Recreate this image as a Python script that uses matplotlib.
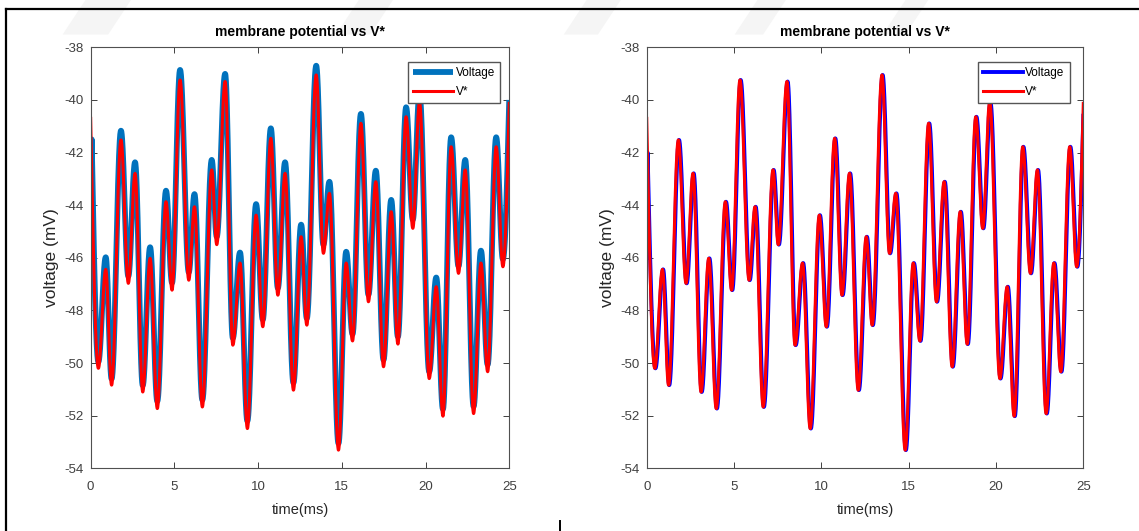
import numpy as np
import matplotlib
matplotlib.use("Agg")
import matplotlib.pyplot as plt
from matplotlib.lines import Line2D
from matplotlib.patches import Polygon

plt.rcParams['font.family'] = ['Liberation Sans', 'DejaVu Sans']
plt.rcParams['axes.unicode_minus'] = False

# turning points of V* (time in ms, potential in mV)
t_vstar = [0.00, 0.46, 0.90, 1.25, 1.81, 2.25, 2.65, 3.11, 3.55, 3.98,
           4.50, 4.86, 5.34, 5.86, 6.20, 6.67, 7.23, 7.53, 8.03, 8.49,
           8.92, 9.36, 9.88, 10.28, 10.76, 11.18, 11.61, 12.11, 12.57, 12.91,
           13.47, 13.90, 14.26, 14.80, 15.26, 15.64, 16.14, 16.59, 17.03, 17.49,
           17.95, 18.35, 18.84, 19.24, 19.64, 20.22, 20.64, 21.04, 21.53, 21.97,
           22.37, 22.87, 23.31, 23.71, 24.22, 24.62, 25.00]
v_vstar = [-40.70, -50.20, -46.44, -50.84, -41.52, -46.97, -42.79, -51.10, -46.02, -51.73,
           -43.87, -47.23, -39.24, -46.85, -44.06, -51.67, -42.66, -45.50, -39.30, -49.32,
           -46.20, -52.49, -44.38, -48.62, -41.46, -47.42, -42.79, -51.03, -45.20, -48.56,
           -39.05, -45.83, -43.55, -53.31, -46.20, -49.16, -40.89, -47.67, -43.11, -50.14,
           -44.25, -49.28, -40.64, -44.88, -40.07, -50.59, -47.10, -52.02, -41.78, -46.59,
           -42.66, -51.92, -46.20, -50.33, -41.78, -46.34, -40.13]

# membrane voltage, first run (starts at -46 mV, settles within 0.06 ms)
t_volt_a = [0.00, 0.06, 0.46, 0.90, 1.25, 1.81, 2.25, 2.65, 3.11, 3.55, 3.98,
            4.50, 4.86, 5.34, 5.86, 6.20, 6.67, 7.23, 7.53, 8.03, 8.49,
            8.92, 9.36, 9.88, 10.28, 10.76, 11.18, 11.61, 12.11, 12.57, 12.91,
            13.47, 13.90, 14.26, 14.80, 15.26, 15.64, 16.14, 16.59, 17.03, 17.49,
            17.95, 18.35, 18.84, 19.24, 19.64, 20.22, 20.64, 21.04, 21.53, 21.97,
            22.37, 22.87, 23.31, 23.71, 24.22, 24.62, 25.00]
v_volt_a = [-46.00, -41.50, -49.95, -45.98, -50.60, -41.17, -46.70, -42.37, -50.85, -45.60, -51.45,
            -43.45, -46.95, -38.86, -46.55, -43.58, -51.40, -42.28, -45.20, -39.01, -49.05,
            -45.80, -52.20, -43.96, -48.35, -41.08, -47.15, -42.37, -50.75, -44.74, -48.30,
            -38.70, -45.50, -43.11, -53.05, -45.77, -48.90, -40.53, -47.40, -42.69, -49.88,
            -43.80, -49.00, -40.28, -44.55, -39.75, -50.33, -46.75, -51.75, -41.42, -46.32,
            -42.28, -51.65, -45.73, -50.06, -41.42, -46.05, -40.00]

# membrane voltage, second run (tracks V* closely)
t_volt_b = [0.00, 0.05, 0.50, 0.94, 1.29, 1.85, 2.29, 2.69, 3.15, 3.59, 4.02,
            4.54, 4.90, 5.38, 5.90, 6.24, 6.71, 7.27, 7.57, 8.07, 8.53,
            8.96, 9.40, 9.92, 10.32, 10.80, 11.22, 11.65, 12.15, 12.61, 12.95,
            13.51, 13.94, 14.30, 14.84, 15.30, 15.68, 16.18, 16.63, 17.07, 17.53,
            17.99, 18.39, 18.88, 19.28, 19.68, 20.26, 20.68, 21.08, 21.57, 22.01,
            22.41, 22.91, 23.35, 23.75, 24.26, 24.66, 25.00]
v_volt_b = [-46.00, -42.00, -50.20, -46.44, -50.84, -41.52, -46.97, -42.79, -51.10, -46.02, -51.73,
            -43.87, -47.23, -39.24, -46.85, -44.06, -51.67, -42.66, -45.50, -39.30, -49.32,
            -46.20, -52.49, -44.38, -48.62, -41.46, -47.42, -42.79, -51.03, -45.20, -48.56,
            -39.05, -45.83, -43.55, -53.31, -46.20, -49.16, -40.89, -47.67, -43.11, -50.14,
            -44.25, -49.28, -40.64, -44.88, -40.07, -50.59, -47.10, -52.02, -41.78, -46.59,
            -42.66, -51.92, -46.20, -50.33, -41.78, -46.34, -40.60]

x_ticks = [0, 5, 10, 15, 20, 25]
y_ticks = list(range(-54, -37, 2))


def smooth_trace(t, v, n=40):
    """Join turning points with half-cosine arcs. First and last segments
    are quarter arcs since the trace is still moving at the ends."""
    t = np.asarray(t, float)
    v = np.asarray(v, float)
    ts, vs = [t[0]], [v[0]]
    last = len(t) - 2
    for i in range(len(t) - 1):
        s = np.linspace(0, 1, n)[1:]
        if i == 0:
            w = np.sin(np.pi / 2 * s)
        elif i == last:
            w = 1 - np.cos(np.pi / 2 * s)
        else:
            w = (1 - np.cos(np.pi * s)) / 2
        ts.extend(t[i] + (t[i + 1] - t[i]) * s)
        vs.extend(v[i] + (v[i + 1] - v[i]) * w)
    return np.array(ts), np.array(vs)


def voltage_trace(t, v):
    # step from the initial value, then the settled oscillation
    ts, vs = smooth_trace(t[1:], v[1:])
    return np.r_[t[0], ts], np.r_[v[0], vs]


def style_axes(ax):
    ax.set_xlim(0, 25)
    ax.set_ylim(-54, -38)
    ax.set_xticks(x_ticks)
    ax.set_yticks(y_ticks)
    ax.tick_params(direction='in', top=True, right=True, length=4, width=0.7,
                   colors='#404040', labelsize=9.5, pad=5)
    ax.tick_params(axis='x', pad=9)
    for sp in ax.spines.values():
        sp.set_color('#505050')
        sp.set_linewidth(0.8)
    ax.set_title('membrane potential vs V*', fontsize=10, fontweight='bold', pad=8)
    ax.set_xlabel('time(ms)', fontsize=10.5, color='#262626', labelpad=7)
    ax.set_ylabel('voltage (mV)', fontsize=12.5, color='#262626', labelpad=4)


fig = plt.figure(figsize=(11.39, 5.31), dpi=100)

# faint watermark bands along the top edge, kept behind everything
for x0, x1 in [(0.055, 0.095), (0.295, 0.325), (0.495, 0.525), (0.645, 0.670), (0.775, 0.795)]:
    fig.patches.append(Polygon([(x0 + 0.02, 1.0), (x1 + 0.02, 1.0), (x1, 0.935), (x0, 0.935)],
                               closed=True, transform=fig.transFigure,
                               facecolor='#f5f5f5', edgecolor='none', zorder=-10))

# page frame lines
fig.add_artist(Line2D([0.005, 1.0], [0.983, 0.983], color='black', lw=1.6))
fig.add_artist(Line2D([0.005, 0.005], [0.0, 0.983], color='black', lw=1.6))
fig.add_artist(Line2D([0.4917, 0.4917], [0.0, 0.018], color='black', lw=1.4))

ax1 = fig.add_axes([0.0796, 0.1181, 0.3675, 0.7928])
ta, va = voltage_trace(t_volt_a, v_volt_a)
ts, vs = smooth_trace(t_vstar, v_vstar)
ax1.plot(ta, va, color='#0072BD', lw=4.2, label='Voltage', solid_capstyle='butt')
ax1.plot(ts, vs, color='#FF0000', lw=2.2, label='V*')
style_axes(ax1)
ax1.legend(loc='upper right', bbox_to_anchor=(0.978, 0.965), borderaxespad=0,
           fontsize=8.5, handlelength=3.4, handletextpad=0.2, fancybox=False,
           framealpha=1, edgecolor='#555555', borderpad=0.45, labelspacing=0.55)

ax2 = fig.add_axes([0.5678, 0.1181, 0.3833, 0.7928])
tb, vb = voltage_trace(t_volt_b, v_volt_b)
ax2.plot(tb, vb, color='#0000FF', lw=2.8, label='Voltage')
ax2.plot(ts, vs, color='#FF0000', lw=2.2, label='V*')
style_axes(ax2)
ax2.legend(loc='upper right', bbox_to_anchor=(0.9695, 0.965), borderaxespad=0,
           fontsize=8.5, handlelength=3.4, handletextpad=0.2, fancybox=False,
           framealpha=1, edgecolor='#555555', borderpad=0.45, labelspacing=0.55)

fig.savefig('out.png', dpi=100)
